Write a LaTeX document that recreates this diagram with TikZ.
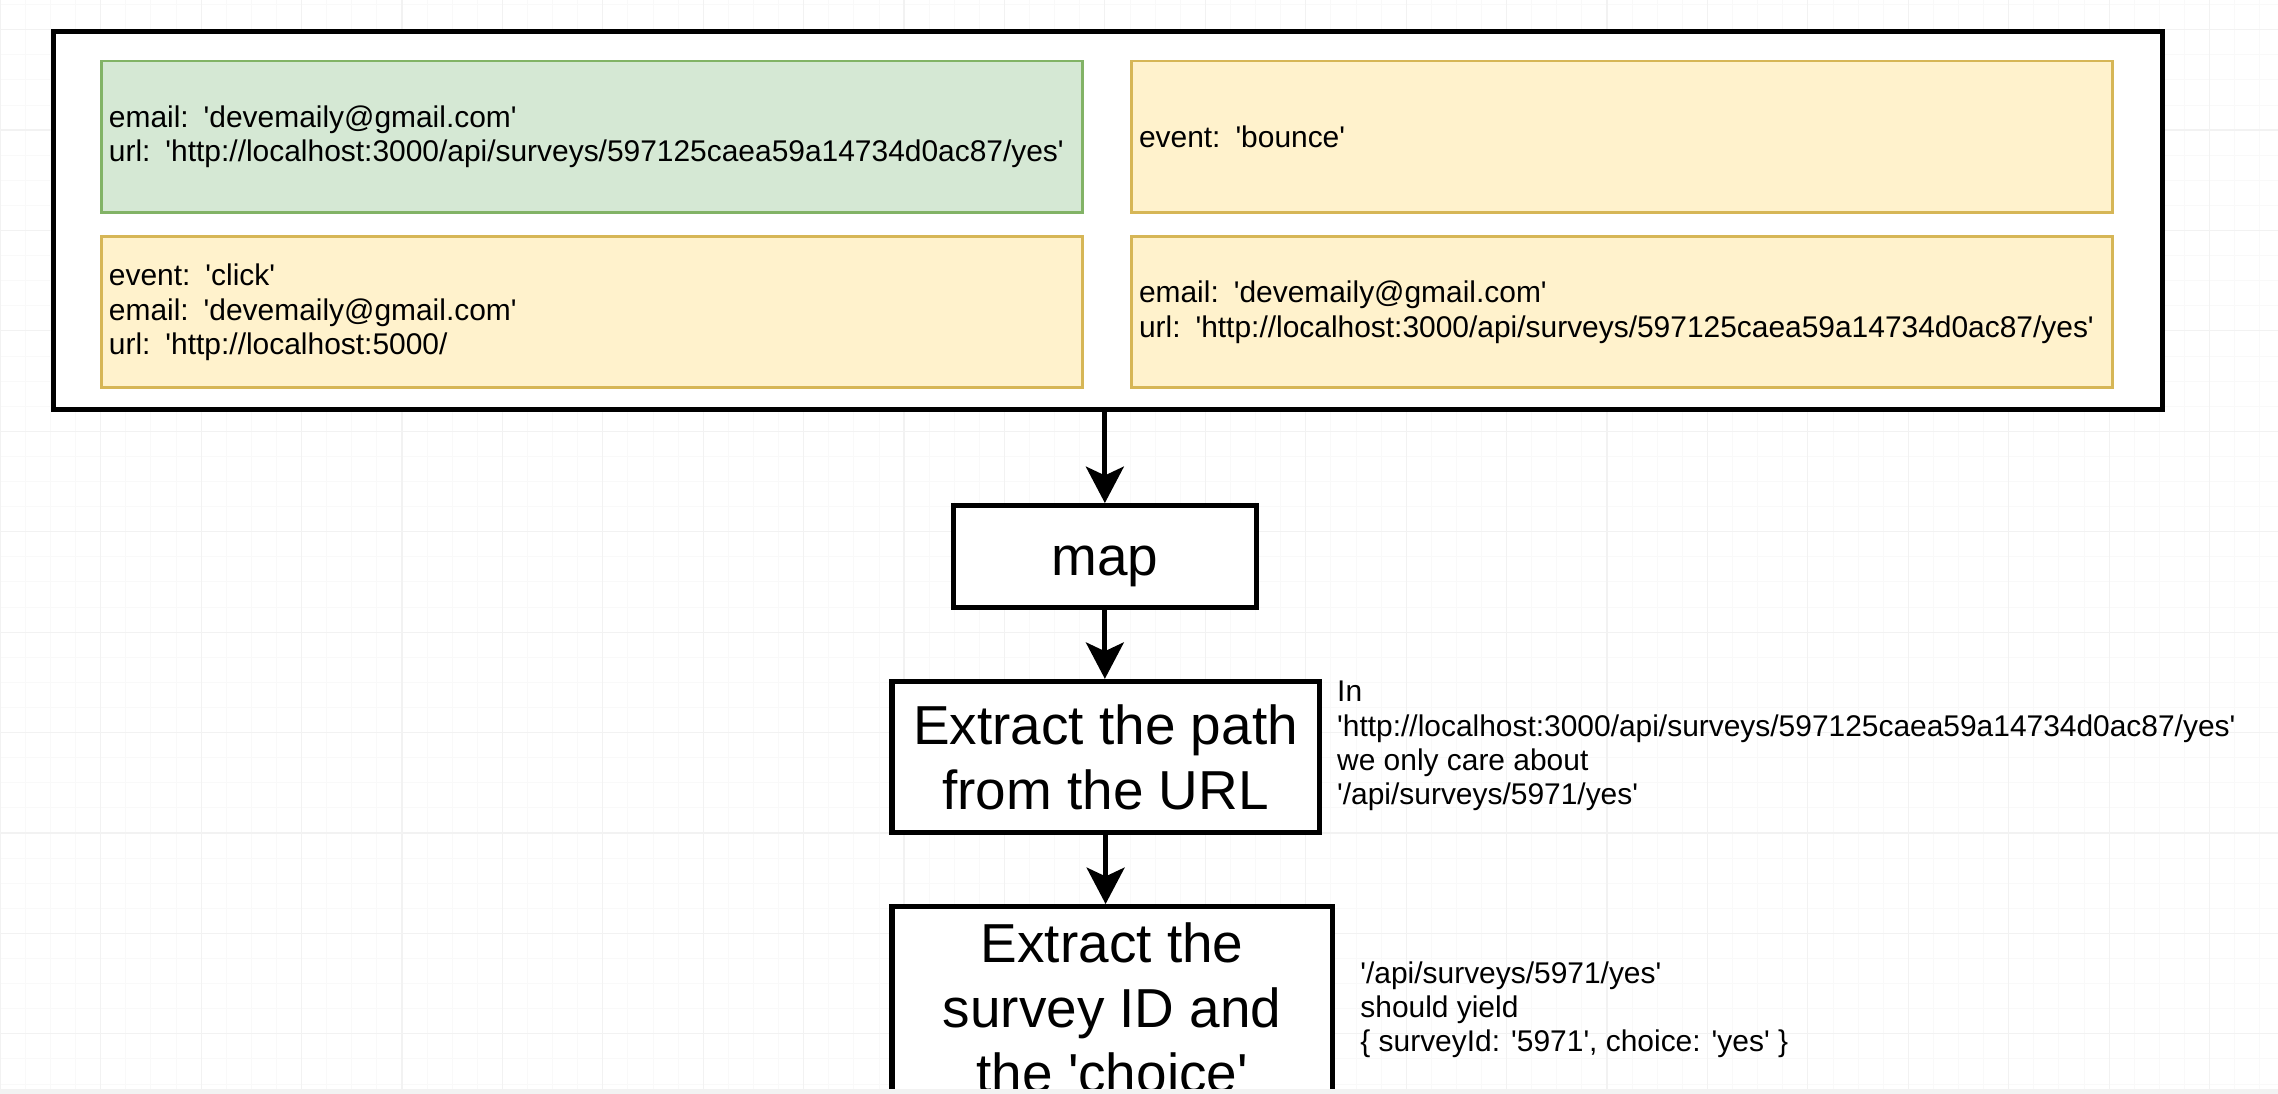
\documentclass[tikz,border=0pt]{standalone}
\usepackage{fontspec}
\setmainfont{Liberation Sans}[Ligatures=TeXOff]
\usetikzlibrary{arrows.meta}
\definecolor{gfill}{HTML}{D5E8D4}
\definecolor{gdraw}{HTML}{82B366}
\definecolor{yfill}{HTML}{FFF2CC}
\definecolor{ydraw}{HTML}{D6B656}
\begin{document}
\begin{tikzpicture}[x=0.5pt,y=-0.5pt,
  smalltxt/.style={font=\fontsize{10.3pt}{11.8pt}\selectfont},
  bigtxt/.style={font=\fontsize{18.9pt}{22.4pt}\selectfont},
  card/.style={smalltxt, draw, line width=1pt, align=left, text width=332.5pt,
    inner xsep=2.5pt, inner ysep=0pt, minimum height=52pt, anchor=north west},
  greencard/.style={card, fill=gfill, draw=gdraw},
  yellowcard/.style={card, fill=yfill, draw=ydraw},
  outerbox/.style={draw, line width=1.75pt, fill=white, anchor=north west, inner sep=0pt},
  flowbox/.style={draw, line width=1.75pt, fill=white, bigtxt, align=center, inner sep=0pt},
  note/.style={smalltxt, align=left, anchor=west, inner sep=0pt},
  arr/.style={line width=1.75pt, -{Stealth[length=12.5pt,width=13pt,inset=3pt]}},
  gridminor/.style={line width=0.3pt, black!2.5},
  gridmajor/.style={line width=0.4pt, black!5}
]
\useasboundingbox (0,0) rectangle (1568,753);
\begin{scope}
\clip (0,0) rectangle (1568,753);
\fill[white] (0,0) rectangle (1568,753);
% background grid
\foreach \i in {0,...,91} \draw[gridminor] ({0.2+17.28*\i},0) -- ({0.2+17.28*\i},753);
\foreach \j in {-2,...,43} \draw[gridminor] (0,{20.4+17.28*\j}) -- (1568,{20.4+17.28*\j});
\foreach \i in {0,...,23} \draw[gridmajor] ({0.2+69.12*\i},0) -- ({0.2+69.12*\i},753);
\foreach \j in {-1,...,11} \draw[gridmajor] (0,{20.4+69.12*\j}) -- (1568,{20.4+69.12*\j});

% outer container
\node[outerbox, minimum width=726pt, minimum height=130pt] (outer) at (35,20) {};

% cards
\node[greencard] (c1) at (69,41) {email: 'devemaily@gmail.com'\\url: 'http://localhost:3000/api/surveys/597125caea59a14734d0ac87/yes'};
\node[yellowcard] (c2) at (778,41) {event: 'bounce'};
\node[yellowcard] (c3) at (69,162) {event: 'click'\\email: 'devemaily@gmail.com'\\url: 'http://localhost:5000/};
\node[yellowcard] (c4) at (778,162) {email: 'devemaily@gmail.com'\\url: 'http://localhost:3000/api/surveys/597125caea59a14734d0ac87/yes'};

% flow boxes
\node[flowbox, minimum width=104.5pt, minimum height=35pt, text height=17pt, text depth=4pt] (map) at (760.5,383) {map};
\node[flowbox, minimum width=147pt, minimum height=52pt] (path) at (761,521) {Extract the path\\from the URL};
\node[flowbox, minimum width=151.5pt, minimum height=70pt] (survey) at (765.5,694) {Extract the\\survey ID and\\the 'choice'};

% connectors
\draw[arr] (map.north |- outer.south) -- (map.north);
\draw[arr] (map.south) -- (map.south |- path.north);
\draw[arr] (path.south) -- (path.south |- survey.north);

% notes
\node[note] (note1) at (920,513.5) {In\\'http://localhost:3000/api/surveys/597125caea59a14734d0ac87/yes'\\we only care about\\'/api/surveys/5971/yes'};
\node[note] (note2) at (936,695) {'/api/surveys/5971/yes'\\should yield\\\{ surveyId: '5971', choice: 'yes' \}};

% bottom strip of the screen
\fill[black!5] (0,749.5) rectangle (1568,753);
\end{scope}
\end{tikzpicture}
\end{document}
